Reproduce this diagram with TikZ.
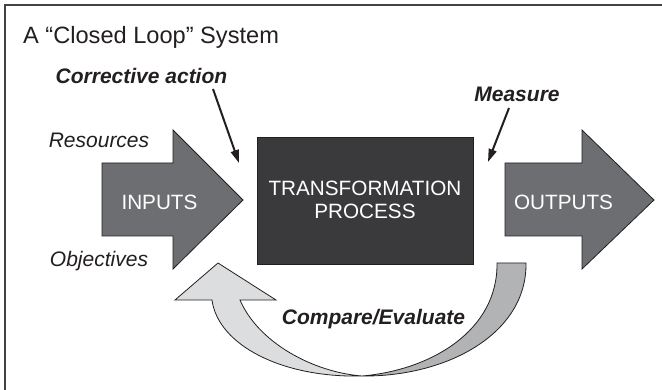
\documentclass[tikz,border=0pt]{standalone}
\usepackage{fontspec}
\setmainfont{Liberation Sans}
\usetikzlibrary{arrows.meta}
\definecolor{arrowgray}{HTML}{6D6E71}
\definecolor{boxgray}{HTML}{3A3A3C}
\definecolor{loopdark}{HTML}{B2B3B5}
\definecolor{looplight}{HTML}{DCDDDF}
\definecolor{ink}{HTML}{231F20}
\tikzset{
  lbl/.style={font=\fontsize{21}{24}\selectfont\itshape, text=ink, inner sep=0pt, anchor=base},
  blbl/.style={font=\fontsize{21}{24}\selectfont\bfseries\itshape, text=ink, inner sep=0pt, anchor=base},
  wlbl/.style={font=\fontsize{20.7}{23}\selectfont, text=white, inner sep=0pt, anchor=base},
  shapeline/.style={draw=ink, line width=0.8pt, line join=miter},
  pointer/.style={draw=ink, line width=2pt, -{Triangle[length=13pt,width=8pt]}},
}
\begin{document}
\begin{tikzpicture}[x=1pt,y=-1pt]
\useasboundingbox (0,0) rectangle (662,390);
\fill[white] (0,0) rectangle (662,390);
\draw[line width=1.5pt, ink!85] (5,390) -- (5,5) -- (662,5);

% title
\node[font=\fontsize{23.6}{27}\selectfont, text=ink, inner sep=0pt, anchor=base west] (title) at (23,44) {A “Closed Loop” System};

% input / output arrows
\path[shapeline, fill=arrowgray] (102,163) -- (173,163) -- (173,130) -- (243,200) -- (173,269) -- (173,236) -- (102,236) -- cycle;
\path[shapeline, fill=arrowgray] (505,163) -- (582,163) -- (582,130) -- (654,200) -- (582,269) -- (582,236) -- (505,236) -- cycle;
\node[wlbl] (inputs) at (159.5,210) {INPUTS};
\node[wlbl] (outputs) at (563.5,210) {OUTPUTS};

% transformation box
\path[shapeline, fill=boxgray] (257,137) rectangle (473,264);
\node[wlbl] (tp1) at (365,196) {TRANSFORMATION};
\node[wlbl] (tp2) at (365,219) {PROCESS};

% feedback loop
\path[shapeline, fill=loopdark] (526,263) .. controls (527,335) and (445,377) .. (362,376)
   .. controls (432,370) and (498,330) .. (497,263) -- cycle;
\path[shapeline, fill=looplight] (362,376) .. controls (282,378) and (218,345) .. (212,300)
   -- (175,300) -- (218,263) -- (276,300) -- (240,300)
   .. controls (258,342) and (312,372) .. (362,376) -- cycle;

% labels
\node[lbl] (res) at (99,148) {Resources};
\node[lbl] (obj) at (99,267) {Objectives};
\node[blbl] (corr) at (141.5,84) {Corrective action};
\node[blbl] (meas) at (517,102) {Measure};
\node[blbl] (cmp) at (373.5,325) {Compare/Evaluate};

% pointers
\coordinate (caS) at (213,89);
\coordinate (caE) at (239,163);
\coordinate (msS) at (509,108);
\coordinate (msE) at (488,162);
\draw[pointer] (caS) -- (caE);
\draw[pointer] (msS) -- (msE);
\end{tikzpicture}
\end{document}
